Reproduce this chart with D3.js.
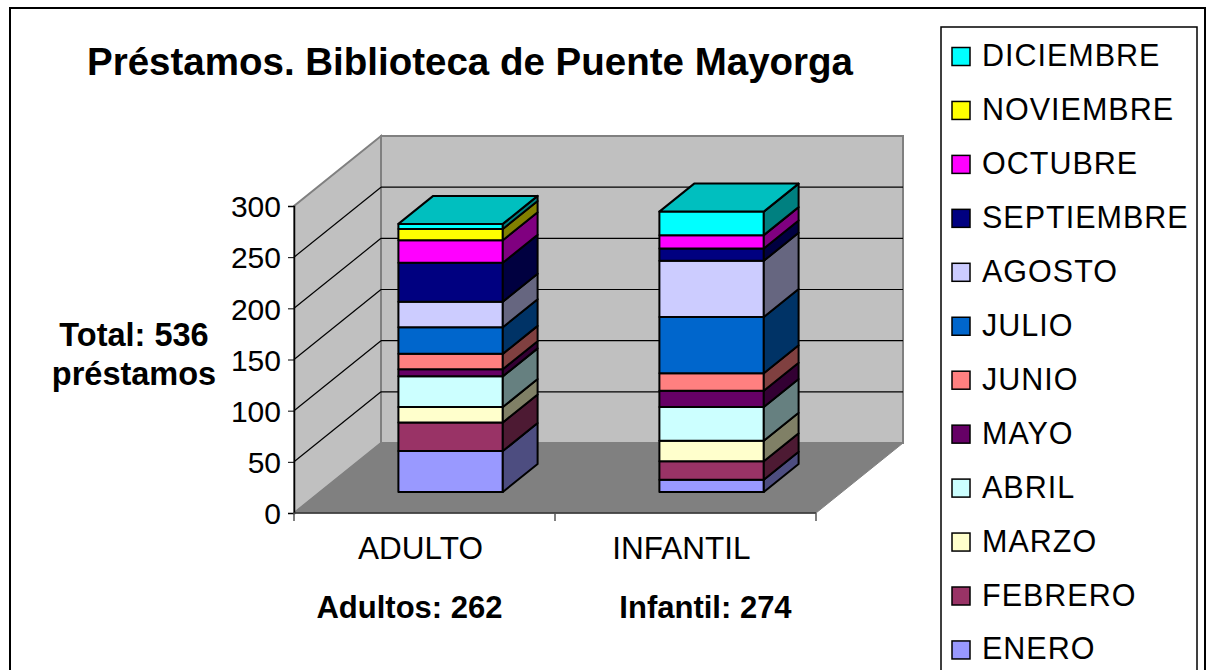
<!DOCTYPE html>
<html>
<head>
<meta charset="utf-8">
<script src="https://cdn.jsdelivr.net/npm/d3@7"></script>
<style>
  body { margin: 0; background: #fff; }
  svg text { font-family: "Liberation Sans", Arial, sans-serif; fill: #000; }
</style>
</head>
<body>
<script>
// data
var categories = ["ADULTO", "INFANTIL"];
var months = ["ENERO", "FEBRERO", "MARZO", "ABRIL", "MAYO", "JUNIO",
              "JULIO", "AGOSTO", "SEPTIEMBRE", "OCTUBRE", "NOVIEMBRE", "DICIEMBRE"];
var adulto   = [40, 28, 15, 30, 7, 15, 26, 25, 38, 22, 11, 5];
var infantil = [12, 18, 20, 33, 16, 17, 55, 55, 12, 13, 0, 23];
var monthColors = ["#9999FF", "#993366", "#FFFFCC", "#CCFFFF", "#660066", "#FF8080",
                   "#0066CC", "#CCCCFF", "#000080", "#FF00FF", "#FFFF00", "#00FFFF"];
var yTicks = [0, 50, 100, 150, 200, 250, 300];
var totalsText = ["Adultos: 262", "Infantil: 274"];

var width = 1207, height = 670;

var svg = d3.select("body").append("svg")
  .attr("width", width)
  .attr("height", height);

// outer frame
svg.append("rect")
  .attr("x", 10).attr("y", 8)
  .attr("width", 1195).attr("height", 680)
  .attr("fill", "#fff").attr("stroke", "#000").attr("stroke-width", 2);

// title
svg.append("text")
  .attr("x", 470).attr("y", 75)
  .attr("text-anchor", "middle")
  .style("font-size", "38.5px").style("font-weight", "bold")
  .text("Préstamos. Biblioteca de Puente Mayorga");

//////////////
// 3d frame
//////////////
var depthX = 87, depthY = -70;
var x0 = 294, x1 = 816;

var yScale = d3.scaleLinear().domain([0, 300]).range([513, 206]);
var xScale = d3.scaleBand().domain(categories).range([x0, x1])
  .paddingInner(0.6).paddingOuter(0.3);

function proj(x, v, d) {
  return [x + d * depthX, yScale(v) + d * depthY];
}
function pts(arr) { return arr.map(function(p) { return p.join(","); }).join(" "); }

var yTop = 300;
// left wall
svg.append("polygon")
  .attr("points", pts([proj(x0, 0, 0), proj(x0, yTop, 0), proj(x0, yTop, 1), proj(x0, 0, 1)]))
  .attr("fill", "#C0C0C0").attr("stroke", "#808080").attr("stroke-width", 2);
// back wall
svg.append("polygon")
  .attr("points", pts([proj(x0, 0, 1), proj(x0, yTop, 1), proj(x1, yTop, 1), proj(x1, 0, 1)]))
  .attr("fill", "#C0C0C0").attr("stroke", "#808080").attr("stroke-width", 2);
// floor
svg.append("polygon")
  .attr("points", pts([proj(x0, 0, 0), proj(x0, 0, 1), proj(x1, 0, 1), proj(x1, 0, 0)]))
  .attr("fill", "#808080").attr("stroke", "#808080").attr("stroke-width", 1);

// gridlines
var grid = svg.append("g").attr("stroke", "#000").attr("stroke-width", 1.2);
yTicks.filter(function(t) { return t > 0 && t < 300; }).forEach(function(t) {
  var a = proj(x0, t, 0), b = proj(x0, t, 1), c = proj(x1, t, 1);
  grid.append("line").attr("x1", a[0]).attr("y1", a[1]).attr("x2", b[0]).attr("y2", b[1]);
  grid.append("line").attr("x1", b[0]).attr("y1", b[1]).attr("x2", c[0]).attr("y2", c[1]);
});

// axes
var yAxis = d3.axisLeft(yScale).tickValues(yTicks).tickSize(6).tickPadding(7);
var gY = svg.append("g")
  .attr("transform", "translate(" + x0 + ",0)")
  .call(yAxis);
gY.select(".domain").attr("stroke", "#000").attr("stroke-width", 1.5);
gY.selectAll(".tick line").attr("stroke", "#000");
gY.selectAll(".tick text")
  .style("font-size", "30px")
  .attr("dy", "0.36em");

var gX = svg.append("g").attr("stroke", "#555").attr("stroke-width", 1.5);
gX.append("line").attr("x1", x0).attr("x2", x1).attr("y1", yScale(0)).attr("y2", yScale(0))
  .attr("stroke", "#333");
[x0, x0 + xScale.step(), x1].forEach(function(x) {
  gX.append("line").attr("x1", x).attr("x2", x)
    .attr("y1", yScale(0)).attr("y2", yScale(0) + 8);
});

// category labels
svg.append("g").selectAll("text")
  .data(categories).enter()
  .append("text")
  .attr("x", function(d) { return xScale(d) + xScale.bandwidth() / 2 - 4; })
  .attr("y", 559)
  .attr("text-anchor", "middle")
  .style("font-size", "31.5px")
  .text(function(d) { return d; });

// totals under categories
var totalsShift = [-15, 20];
svg.append("g").selectAll("text")
  .data(totalsText).enter()
  .append("text")
  .attr("x", function(d, i) { return xScale(categories[i]) + xScale.bandwidth() / 2 + totalsShift[i]; })
  .attr("y", 618)
  .attr("text-anchor", "middle")
  .style("font-size", "31px").style("font-weight", "bold")
  .text(function(d) { return d; });

// total label
var totalLabel = svg.append("text")
  .attr("x", 134).attr("y", 346)
  .attr("text-anchor", "middle")
  .style("font-size", "32.5px").style("font-weight", "bold");
totalLabel.append("tspan").attr("x", 134).text("Total: 536");
totalLabel.append("tspan").attr("x", 134).attr("y", 385).text("préstamos");

//////////////
// bars
//////////////
var barD0 = 0.3, barD1 = 0.7;

function shade(c, k) {
  var col = d3.rgb(c);
  return d3.rgb(col.r * k, col.g * k, col.b * k).formatHex();
}

function drawBar(cat, values) {
  var g = svg.append("g").attr("stroke", "#000").attr("stroke-width", 2).attr("stroke-linejoin", "round");
  var stack = [];
  var acc = 0;
  values.forEach(function(v, i) {
    stack.push({ lo: acc, hi: acc + v, color: monthColors[i] });
    acc += v;
  });
  stack = stack.filter(function(s) { return s.hi > s.lo; });
  var bx = xScale(cat), bw = xScale.bandwidth();
  stack.forEach(function(s) {
    // front
    var fl = proj(bx, s.lo, barD0), fh = proj(bx, s.hi, barD0);
    g.append("rect")
      .attr("x", fl[0]).attr("y", fh[1])
      .attr("width", bw).attr("height", fl[1] - fh[1])
      .attr("fill", s.color);
    // side
    g.append("polygon")
      .attr("points", pts([proj(bx + bw, s.lo, barD0), proj(bx + bw, s.hi, barD0),
                           proj(bx + bw, s.hi, barD1), proj(bx + bw, s.lo, barD1)]))
      .attr("fill", shade(s.color, 0.5));
  });
  var top = stack[stack.length - 1];
  g.append("polygon")
    .attr("points", pts([proj(bx, top.hi, barD0), proj(bx + bw, top.hi, barD0),
                         proj(bx + bw, top.hi, barD1), proj(bx, top.hi, barD1)]))
    .attr("fill", shade(top.color, 0.75));
}

drawBar(categories[0], adulto);
drawBar(categories[1], infantil);

//////////////
// legend
//////////////
svg.append("rect")
  .attr("x", 941).attr("y", 27)
  .attr("width", 256).attr("height", 680)
  .attr("fill", "#fff").attr("stroke", "#000").attr("stroke-width", 1.5);

var legendItems = months.map(function(m, i) { return { name: m, color: monthColors[i] }; }).reverse();
var legend = svg.append("g").selectAll("g")
  .data(legendItems).enter()
  .append("g")
  .attr("transform", function(d, i) { return "translate(952," + (56.5 + i * 53.95) + ")"; });
legend.append("rect")
  .attr("x", 0).attr("y", -9)
  .attr("width", 18).attr("height", 18)
  .attr("fill", function(d) { return d.color; })
  .attr("stroke", "#000").attr("stroke-width", 1.5);
legend.append("text")
  .attr("x", 30).attr("y", 9.5)
  .style("font-size", "30.5px")
  .style("letter-spacing", "1px")
  .text(function(d) { return d.name; });
</script>
</body>
</html>
